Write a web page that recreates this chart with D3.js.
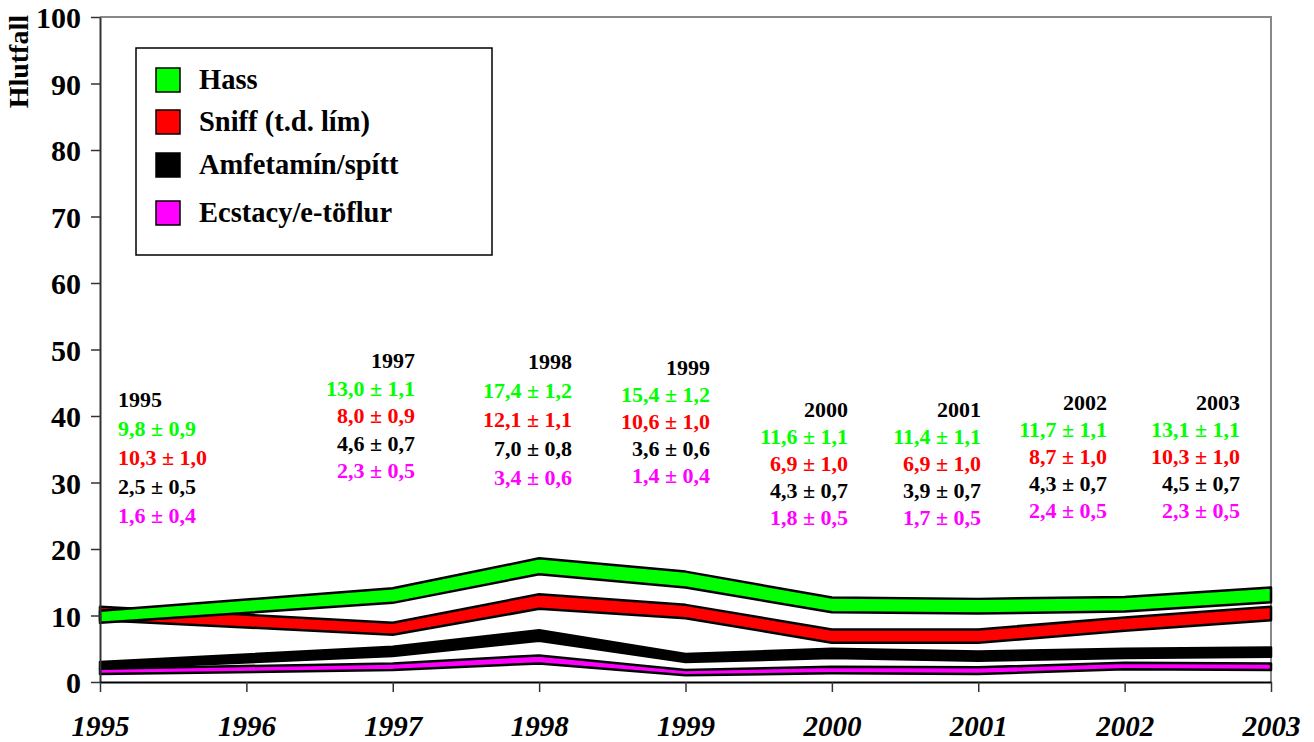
<!DOCTYPE html>
<html>
<head>
<meta charset="utf-8">
<script src="https://cdn.jsdelivr.net/npm/d3@7"></script>
<style>
  html, body { margin: 0; padding: 0; background: #fff; }
  svg { display: block; font-family: "Liberation Serif", "Times New Roman", serif; }
</style>
</head>
<body>
<svg id="chart" width="1314" height="742"></svg>
<script>
// ---- data ----
const years = [1995, 1997, 1998, 1999, 2000, 2001, 2002, 2003];
const axisYears = [1995, 1996, 1997, 1998, 1999, 2000, 2001, 2002, 2003];
const yTicks = [0, 10, 20, 30, 40, 50, 60, 70, 80, 90, 100];

const seriesNames = ["Hass", "Sniff (t.d. lím)", "Amfetamín/spítt", "Ecstacy/e-töflur"];
const hass      = [9.8, 13.0, 17.4, 15.4, 11.6, 11.4, 11.7, 13.1];
const hassErr   = [0.9, 1.1, 1.2, 1.2, 1.1, 1.1, 1.1, 1.1];
const sniff     = [10.3, 8.0, 12.1, 10.6, 6.9, 6.9, 8.7, 10.3];
const sniffErr  = [1.0, 0.9, 1.1, 1.0, 1.0, 1.0, 1.0, 1.0];
const amf       = [2.5, 4.6, 7.0, 3.6, 4.3, 3.9, 4.3, 4.5];
const amfErr    = [0.5, 0.7, 0.8, 0.6, 0.7, 0.7, 0.7, 0.7];
const ecs       = [1.6, 2.3, 3.4, 1.4, 1.8, 1.7, 2.4, 2.3];
const ecsErr    = [0.4, 0.5, 0.6, 0.4, 0.5, 0.5, 0.5, 0.5];
const yAxisTitle = "Hlutfall";

// ---- style / layout ----
const colors = ["#00ff00", "#ff0000", "#000000", "#ff00ff"];
const FONT = '"Liberation Serif", "Times New Roman", serif';
const plot = { left: 100, right: 1271, top: 17, bottom: 682 };
// annotation blocks: anchor x (px), baseline of year line (px), line step
const annX    = [118, 415, 572, 710, 848, 981, 1107, 1240];
const annY    = [407, 368, 369, 375, 417, 417, 410, 410];
const annStep = [29, 27.5, 29, 27, 27, 27, 27, 27];

const svg = d3.select("#chart");
const x = d3.scaleLinear().domain([1995, 2003]).range([plot.left, plot.right]);
const y = d3.scaleLinear().domain([0, 100]).range([plot.bottom, plot.top]);

// frame (top + right, grey)
svg.append("path")
  .attr("d", `M${plot.left},${plot.top}H${plot.right}V${plot.bottom}`)
  .attr("fill", "none").attr("stroke", "#888").attr("stroke-width", 2);

// bands
const seriesVals = [hass, sniff, amf, ecs];
const seriesErrs = [hassErr, sniffErr, amfErr, ecsErr];
const area = d3.area()
  .x(d => x(d.year))
  .y0(d => y(d.v - d.e))
  .y1(d => y(d.v + d.e));
const bandData = seriesVals.map((vals, i) =>
  years.map((yr, j) => ({ year: yr, v: vals[j], e: seriesErrs[i][j] })));

// draw from last to first so Hass is on top
for (let i = bandData.length - 1; i >= 0; i--) {
  svg.append("path")
    .datum(bandData[i])
    .attr("d", area)
    .attr("fill", colors[i])
    .attr("stroke", "#000")
    .attr("stroke-width", 2.5)
    .attr("stroke-linejoin", "round");
}

// y axis
const yAxis = svg.append("g").attr("transform", `translate(${plot.left},0)`)
  .call(d3.axisLeft(y).tickValues(yTicks).tickSize(9).tickPadding(10).tickSizeOuter(0));
yAxis.select(".domain").attr("stroke", "#333").attr("stroke-width", 2);
yAxis.selectAll(".tick line").attr("stroke", "#333").attr("stroke-width", 1.5);
yAxis.selectAll(".tick text")
  .attr("font-family", FONT).attr("font-size", 30).attr("font-weight", "bold")
  .attr("fill", "#000").attr("dy", "0.36em");

// x axis
const xAxis = svg.append("g").attr("transform", `translate(0,${plot.bottom})`)
  .call(d3.axisBottom(x).tickValues(axisYears).tickFormat(d3.format("d"))
        .tickSize(10).tickPadding(23).tickSizeOuter(0));
xAxis.select(".domain").attr("stroke", "#000").attr("stroke-width", 2);
xAxis.selectAll(".tick line").attr("stroke", "#333").attr("stroke-width", 1.5);
xAxis.selectAll(".tick text")
  .attr("font-family", FONT).attr("font-size", 29).attr("font-weight", "bold")
  .attr("font-style", "italic").attr("fill", "#000");

// y axis title
svg.append("text")
  .attr("transform", "translate(28,15) rotate(-90)")
  .attr("text-anchor", "end")
  .attr("font-family", FONT).attr("font-size", 28).attr("font-weight", "bold")
  .text(yAxisTitle);

// legend
const lg = svg.append("g");
lg.append("rect").attr("x", 136).attr("y", 48).attr("width", 356).attr("height", 207)
  .attr("fill", "#fff").attr("stroke", "#000").attr("stroke-width", 1.5);
const legY = [68, 110, 153, 201];
seriesNames.forEach((name, i) => {
  lg.append("rect").attr("x", 156).attr("y", legY[i]).attr("width", 24).attr("height", 24)
    .attr("fill", colors[i]).attr("stroke", "#000").attr("stroke-width", 1.5);
  lg.append("text").attr("x", 199).attr("y", legY[i] + 21)
    .attr("font-family", FONT).attr("font-size", 28.5).attr("font-weight", "bold")
    .text(name);
});

// annotations
const fmt = v => d3.format(".1f")(v).replace(".", ",");
years.forEach((yr, j) => {
  const anchor = j === 0 ? "start" : "end";
  const g = svg.append("g");
  const lines = [{ t: String(yr), c: "#000" }]
    .concat(seriesVals.map((vals, i) => ({ t: `${fmt(vals[j])} ± ${fmt(seriesErrs[i][j])}`, c: colors[i] })));
  lines.forEach((ln, k) => {
    g.append("text")
      .attr("x", annX[j]).attr("y", annY[j] + k * annStep[j])
      .attr("text-anchor", anchor)
      .attr("font-family", FONT).attr("font-size", 22).attr("font-weight", "bold")
      .attr("fill", ln.c)
      .text(ln.t);
  });
});
</script>
</body>
</html>
